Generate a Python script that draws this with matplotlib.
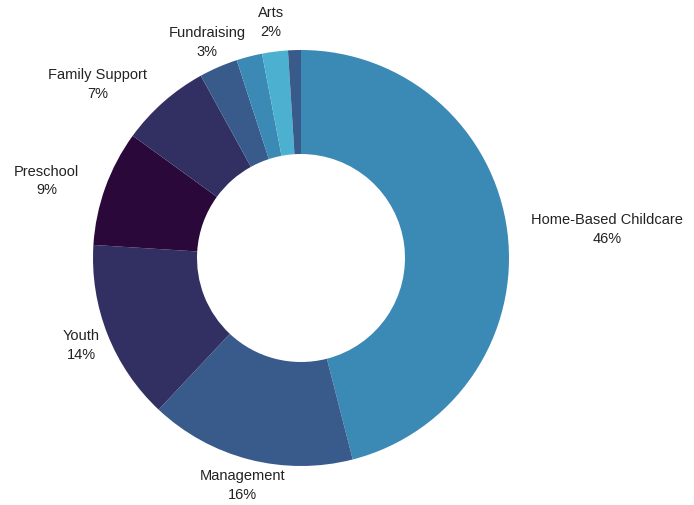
import matplotlib.pyplot as plt
from matplotlib.transforms import offset_copy
import numpy as np

plt.rcParams['font.family'] = ['Liberation Sans', 'DejaVu Sans']

# slices clockwise from 12 o'clock
categories = ['Home-Based Childcare', 'Management', 'Youth', 'Preschool',
              'Family Support', 'Fundraising', 'Other', 'Arts', 'Admin']
values = [46, 16, 14, 9, 7, 3, 2, 2, 1]
show_label = [True, True, True, True, True, True, False, True, False]
colors = ['#3b89b5', '#385b8c', '#323062', '#2a083a', '#323062',
          '#385b8c', '#3b89b5', '#4cb1d0', '#385b8c']

# small manual tweaks (pixels) where labels got crowded
nudge = {'Family Support': (-19, -3), 'Fundraising': (12, 0), 'Youth': (8, 0),
         'Preschool': (-9, -2), 'Management': (9, 2), 'Arts': (0, 2)}

fig = plt.figure(figsize=(6.94, 5.06), dpi=100)
ax = fig.add_axes([0, 0, 1, 1])

wedges, _ = ax.pie(values, colors=colors, startangle=90, counterclock=False,
                   radius=1.0, wedgeprops=dict(width=0.5, linewidth=0))

ax.set_xlim(-301 / 208, (694 - 301) / 208)
ax.set_ylim(-(506 - 259) / 208, 259 / 208)
ax.set_aspect('equal')
ax.axis('off')

renderer = fig.canvas.get_renderer()
total = sum(values)
for w, name, v, show in zip(wedges, categories, values, show_label):
    if not show:
        continue
    ang = np.deg2rad((w.theta1 + w.theta2) / 2)
    c, s = np.cos(ang), np.sin(ang)
    r = 1.08
    label = f'{name}\n{round(100 * v / total)}%'
    t = ax.text(r * c, r * s, label, ha='center', va='center',
                multialignment='center', fontsize=10.5, color='#222222', linespacing=1.45)
    bb = t.get_window_extent(renderer)
    nx, ny = nudge.get(name, (0, 0))
    t.set_transform(offset_copy(ax.transData, fig=fig, units='dots',
                                x=bb.width / 2 * c * 1.1 + nx,
                                y=bb.height / 2 * s * 0.7 + ny))

fig.savefig('out.png', dpi=100)
